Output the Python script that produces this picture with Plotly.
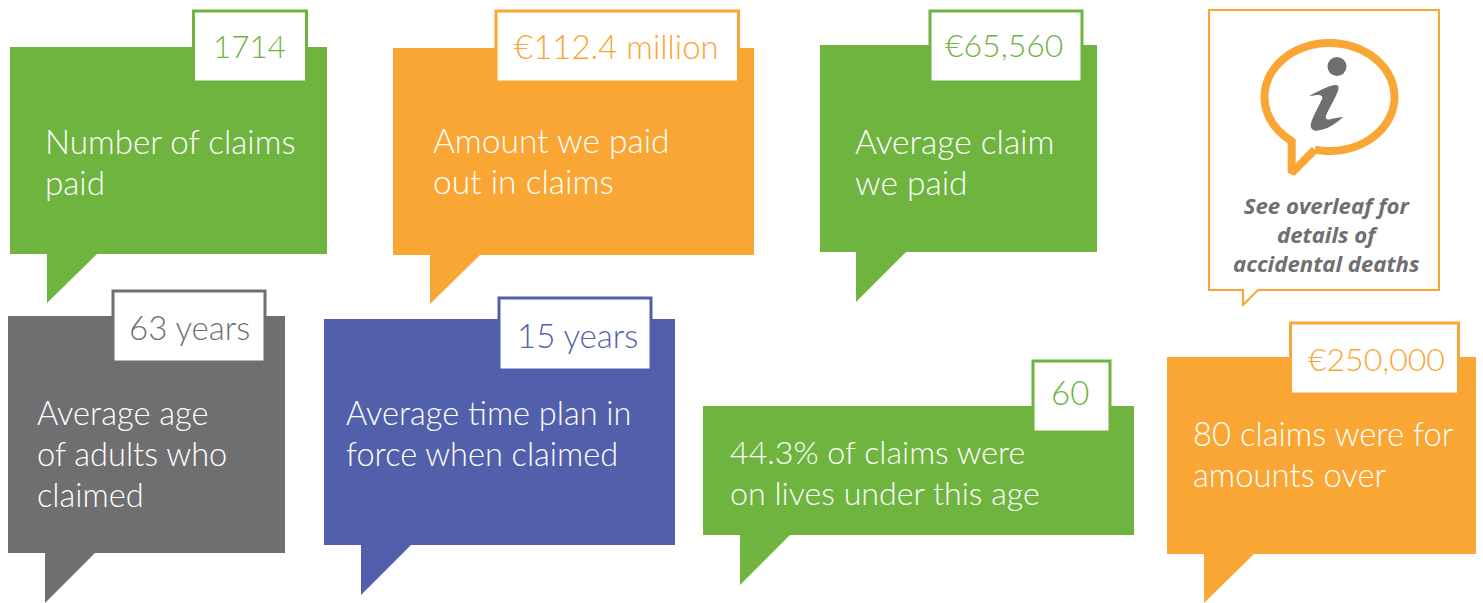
import plotly.graph_objects as go
import math

GREEN = "#6EB43F"; ORANGE = "#FAA634"; GREY = "#6F6F71"; BLUE = "#5260AC"

# text content
values = ["1714", "€112.4 million", "€65,560", "63 years", "15 years", "60", "€250,000"]
captions = [
    ["Number of claims", "paid"],
    ["Amount we paid", "out in claims"],
    ["Average claim", "we paid"],
    ["Average age", "of adults who", "claimed"],
    ["Average time plan in", "force when claimed"],
    ["44.3% of claims were", "on lives under this age"],
    ["80 claims were for", "amounts over"],
]
colors = [GREEN, ORANGE, GREEN, GREY, BLUE, GREEN, ORANGE]
note = ["See overleaf for", "details of", "accidental deaths"]

# layout of the cards (page pixels): x0, x1, y0, y1, tail x, tail tip y
boxes = [
    (10, 327, 47, 254, 47, 303), (393, 754, 48, 255, 430, 304), (820, 1097, 45, 252, 856, 302),
    (8, 285, 316, 553, 45, 603), (324, 675, 319, 545, 361, 595), (703, 1134, 406, 535, 740, 585),
    (1167, 1476, 357, 554, 1204, 603),
]
tags = [
    (193.5, 306.5, 11, 82), (496, 738.5, 11, 82), (930, 1082, 11, 82),
    (113, 265, 291, 362), (499, 651, 298, 370), (1033, 1110, 361, 432), (1290.5, 1458.5, 323, 394),
]
text_xy = [(42.5, 141), (430.5, 140), (852.5, 141), (34.5, 412), (343.5, 412), (727.5, 451), (1190.5, 433)]
cap_size = [33.2, 33.5, 33.5, 32.6, 32.5, 32.2, 32.8]
val_size = [31.5, 33, 32, 33, 33, 33, 32]
val_dx = [-1, -1, -2.5, 0, 2, -2, 2]
val_dy = [-2, -2, -3, -1, 0, -6, -1]
LINE = 41

fig = go.Figure()
shapes, ann = [], []

for (x0, x1, y0, y1, tx, ty), (a, b, c, d), col, val, cap, (px, py), cs, vs, dx, dy in zip(
        boxes, tags, colors, values, captions, text_xy, cap_size, val_size, val_dx, val_dy):
    shapes.append(dict(type="path", layer="below", line_width=0, fillcolor=col,
                       path=f"M{x0},{y0}L{x1},{y0}L{x1},{y1}L{tx+50},{y1}L{tx},{ty}L{tx},{y1}L{x0},{y1}Z"))
    shapes.append(dict(type="rect", layer="below", x0=a, x1=b, y0=c, y1=d, fillcolor="white",
                       line=dict(color=col, width=3)))
    ann.append(dict(x=(a + b) / 2 + dx, y=(c + d) / 2 + 1 + dy, text=val, showarrow=False, xanchor="center", yanchor="middle",
                    font=dict(family="Lato", size=vs, color=col, weight=300)))
    for i, line in enumerate(cap):
        ann.append(dict(x=px, y=py + i * LINE, text=line, showarrow=False, xanchor="left", yanchor="middle",
                        font=dict(family="Lato", size=cs, color="white", weight=300)))

# info panel
shapes.append(dict(type="path", layer="below", fillcolor="white", line=dict(color=ORANGE, width=2),
                   path="M1209,10L1439,10L1439,290L1258,290L1243,305L1243,290L1209,290Z"))
# speech-bubble icon, drawn as a line trace so the joins are round
cx, cy, rx, ry = 1329.5, 97, 65, 54
start = math.radians(103); end = math.radians(125)
icon_x, icon_y = [], []
n = 180
for k in range(n + 1):
    t = start - k * (2 * math.pi - (end - start)) / n
    icon_x.append(cx + rx * math.cos(t)); icon_y.append(cy + ry * math.sin(t))
icon_x += [1291.7, 1291.7, icon_x[0]]
icon_y += [140, 173, icon_y[0]]
fig.add_trace(go.Scatter(x=icon_x, y=icon_y, mode="lines", fill="toself", fillcolor="white",
                         line=dict(color=ORANGE, width=8, simplify=False), hoverinfo="skip"))
# the "i" glyph of the icon
shapes.append(dict(type="circle", x0=1327.5, x1=1346.5, y0=57, y1=76, fillcolor=GREY, line_width=0))
shapes.append(dict(type="path", fillcolor=GREY, line_width=0,
                   path="M1309,95.7C1318,92 1328,85 1336,85C1339,85 1339,88 1338,91"
                        "C1334,101 1328,110 1326,116C1325,120 1328,120 1331,119C1336,118 1340,117 1343,117"
                        "C1338,122 1327,130 1317,130.7C1311,131 1310,126 1311,123"
                        "C1314,114 1320,104 1322,99C1323,96 1321,95 1318,95C1315,95 1312,96 1309,95.7Z"))
ann.append(dict(x=1326.5, y=234, text="<b><i>" + "<br>".join(note) + "</i></b>", showarrow=False,
                xanchor="center", yanchor="middle", align="center",
                font=dict(family="Open Sans", size=22.2, color=GREY)))

fig.update_layout(
    width=1483, height=603, margin=dict(l=0, r=0, t=0, b=0), paper_bgcolor="white", plot_bgcolor="white",
    showlegend=False, shapes=shapes, annotations=ann,
    xaxis=dict(range=[0, 1483], visible=False, fixedrange=True),
    yaxis=dict(range=[603, 0], visible=False, fixedrange=True),
)
fig.write_html("out.html", config={"displayModeBar": False},
               post_script="document.body.style.margin='0';document.body.style.overflow='hidden';")
